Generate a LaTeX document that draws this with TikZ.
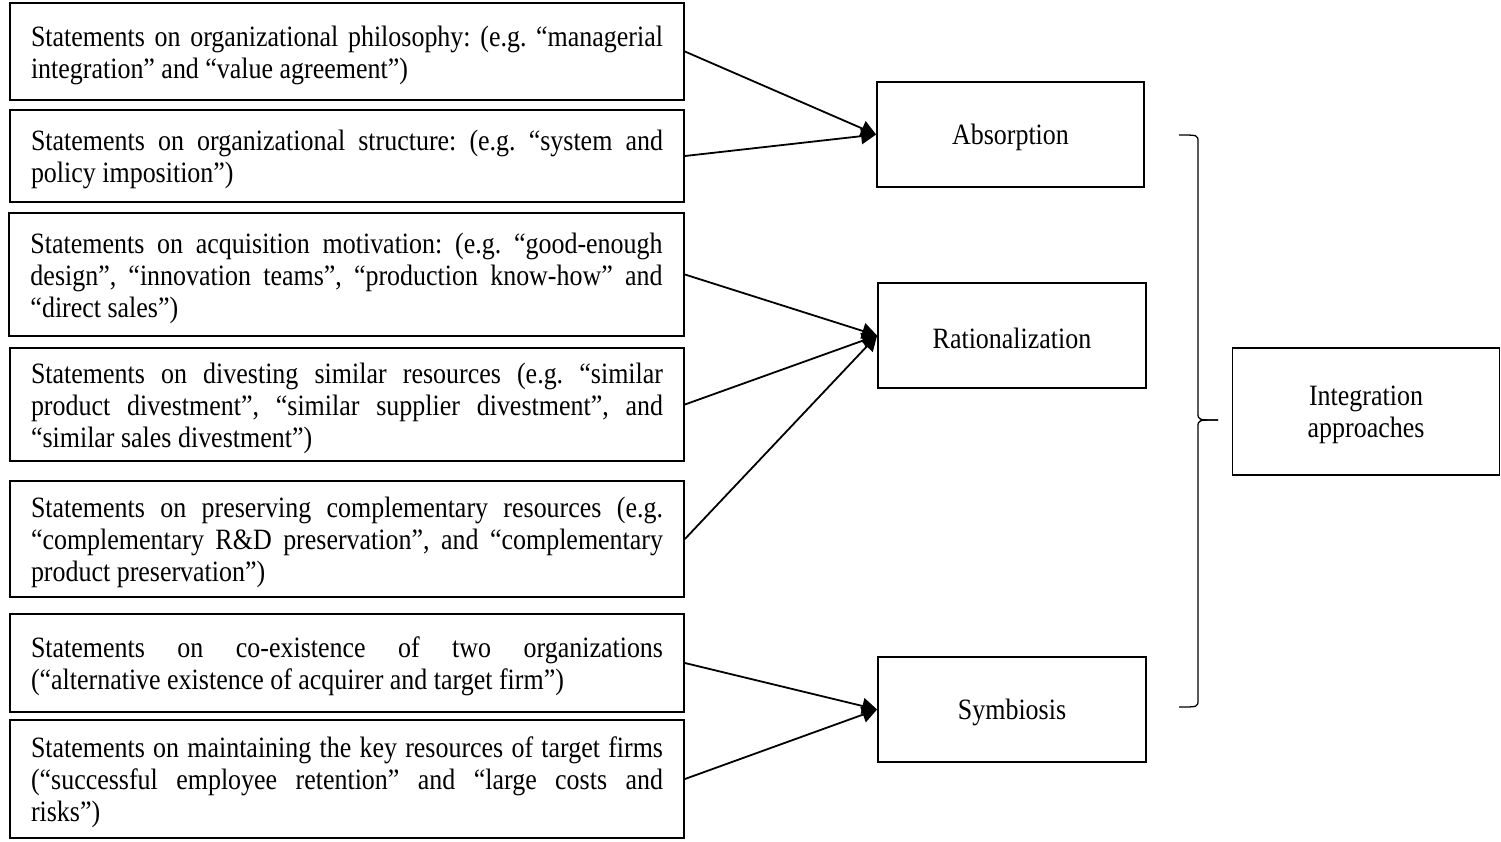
\documentclass[tikz,border=0pt]{standalone}
\usepackage{fontspec}
\setmainfont[FakeStretch=0.88]{Liberation Serif}
\usetikzlibrary{arrows.meta}
\newcommand\myfs{\fontsize{29.5pt}{32pt}\selectfont\frenchspacing\hyphenpenalty=10000\exhyphenpenalty=10000}
\newcommand\ltext[1]{\parbox{632pt}{\myfs\vspace*{7pt}#1}}
\newcommand\rtext[1]{\parbox{250pt}{\myfs\centering\vspace*{6pt}#1}}
\begin{document}
\begin{tikzpicture}[x=1pt,y=-1pt,
  lbox/.style={draw, line width=1.8pt, minimum width=674pt, inner sep=0pt},
  rbox/.style={draw, line width=1.8pt, minimum width=267pt, minimum height=105pt, inner sep=0pt},
  arr/.style={line width=1.8pt, -{Triangle[length=15pt,width=16pt]}},
  brace/.style={line width=1.3pt}]
\useasboundingbox (0,0) rectangle (1501,841);
\node[lbox, minimum height=97pt] (l1) at (347,51.5) {\ltext{Statements on organizational philosophy: (e.g. “managerial\linebreak integration” and “value agreement”)}};
\node[lbox, minimum height=92pt] (l2) at (347,156) {\ltext{Statements on organizational structure: (e.g. “system and\linebreak policy imposition”)}};
\node[lbox, minimum height=123pt, minimum width=675pt] (l3) at (346.5,274.5) {\ltext{Statements on acquisition motivation: (e.g. “good-enough\linebreak design”, “innovation teams”, “production know-how” and\linebreak “direct sales”)}};
\node[lbox, minimum height=113pt] (l4) at (347,404.5) {\ltext{Statements on divesting similar resources (e.g. “similar\linebreak product divestment”, “similar supplier divestment”, and\linebreak “similar sales divestment”)}};
\node[lbox, minimum height=116pt] (l5) at (347,539) {\ltext{Statements on preserving complementary resources (e.g.\linebreak “complementary R\&D preservation”, and “complementary\linebreak product preservation”)}};
\node[lbox, minimum height=98pt] (l6) at (347,663) {\ltext{Statements on co-existence of two organizations\linebreak (“alternative existence of acquirer and target firm”)}};
\node[lbox, minimum height=118pt] (l7) at (347,779) {\ltext{Statements on maintaining the key resources of target firms\linebreak (“successful employee retention” and “large costs and\linebreak risks”)}};
\node[rbox] (abs) at (1010.5,134.5) {\rtext{Absorption}};
\node[rbox, minimum width=268pt] (rat) at (1012,335.5) {\rtext{Rationalization}};
\node[rbox, minimum width=268pt] (sym) at (1012,709.5) {\rtext{Symbiosis}};
\node[rbox, minimum height=127pt] (int) at (1366,411.5) {\rtext{Integration\\approaches}};
\draw[arr] (l1.east) -- (abs.west);
\draw[arr] (l2.east) -- (abs.west);
\draw[arr] (l3.east) -- (rat.west);
\draw[arr] (l4.east) -- (rat.west);
\draw[arr] (l5.east) -- (rat.west);
\draw[arr] (l6.east) -- (sym.west);
\draw[arr] (l7.east) -- (sym.west);
\coordinate (bt) at (1179,135);
\coordinate (bm) at (1218,420);
\coordinate (bb) at (1179,707);
\draw[brace] (bt) .. controls (1198,135) .. (1198,142) -- (1198,413) .. controls (1198,420) .. (bm);
\draw[brace] (bm) .. controls (1198,420) .. (1198,427) -- (1198,700) .. controls (1198,707) .. (bb);
\end{tikzpicture}
\end{document}
